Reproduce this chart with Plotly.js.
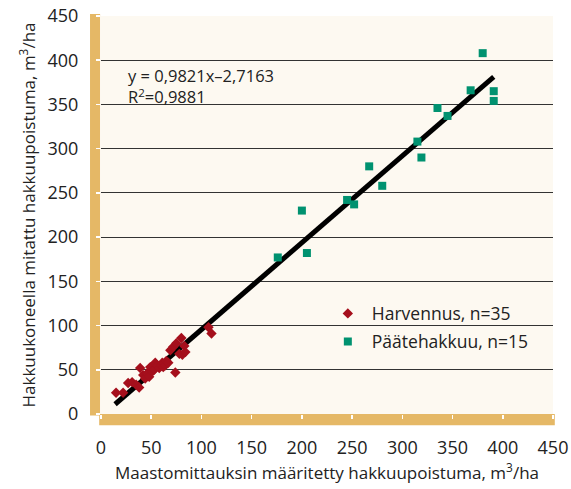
<!DOCTYPE html>
<html>
<head>
<meta charset="utf-8">
<script src="https://cdn.plot.ly/plotly-3.0.1.min.js"></script>
<style>html,body{margin:0;padding:0;background:#fff;}#chart{width:571px;height:489px;}</style>
</head>
<body>
<div id="chart"></div>
<script>
// Harvennus (thinning), n=35
const harvX = [15, 22, 27, 31, 35, 38, 39, 42, 44, 46, 48, 49, 51, 53, 54, 56, 58, 60, 61, 62, 63, 64, 65, 67, 69, 72, 74, 75, 78, 80, 81, 83, 84, 107, 110];
const harvY = [24, 24, 35, 36, 33, 30, 52, 44, 40, 46, 42, 53, 48, 50, 58, 55, 52, 55, 58, 53, 57, 55, 60, 58, 72, 76, 47, 80, 68, 86, 67, 77, 70, 98, 91];
// Päätehakkuu (final felling), n=15
const paatX = [380, 391, 391, 368, 345, 335, 315, 319, 267, 280, 245, 252, 200, 205, 176];
const paatY = [408, 365, 354, 366, 337, 346, 308, 290, 280, 258, 242, 237, 230, 182, 177];
// Regression line
const slope = 0.9821, intercept = -2.7163;
const lineX = [14, 391];
const lineY = lineX.map(x => slope * x + intercept);

const ticks = [0, 50, 100, 150, 200, 250, 300, 350, 400, 450];
const font = "'Open Sans', 'Noto Sans', sans-serif";

const traces = [
  {x: lineX, y: lineY, mode: 'lines', line: {color: '#000', width: 5}, showlegend: false, hoverinfo: 'skip'},
  {x: harvX, y: harvY, mode: 'markers', name: 'Harvennus, n=35', legend: 'legend',
   marker: {symbol: 'diamond', size: 8, color: '#A50F1C'}},
  {x: paatX, y: paatY, mode: 'markers', name: 'Päätehakkuu, n=15', legend: 'legend2',
   marker: {symbol: 'square', size: 8, color: '#009270'}}
];

const legendCommon = {xanchor: 'left', yanchor: 'middle', bgcolor: 'rgba(0,0,0,0)',
  font: {size: 17.5, color: '#222'}, itemwidth: 38};

const layout = {
  width: 571, height: 489,
  margin: {l: 101, r: 18, t: 16, b: 75},
  paper_bgcolor: '#fff',
  plot_bgcolor: '#FDF9F1',
  font: {family: font, color: '#222', size: 16},
  showlegend: true,
  legend: Object.assign({x: 0.493, y: 0.2525}, legendCommon),
  legend2: Object.assign({x: 0.493, y: 0.182}, legendCommon),
  xaxis: {range: [0, 450], tickvals: ticks, ticktext: ticks.map(String),
          showgrid: false, zeroline: false, showline: false,
          ticks: 'outside', ticklen: 4, tickcolor: '#fff', tickwidth: 1.5,
          ticklabelstandoff: 13, tickfont: {size: 18, color: '#222'},
          title: {text: 'Maastomittauksin määritetty hakkuupoistuma, m<sup>3</sup>/ha', font: {size: 17, color: '#222'}, standoff: 9}},
  yaxis: {range: [0, 450], tickvals: ticks, ticktext: ticks.map(String),
          showgrid: true, gridcolor: '#333', gridwidth: 1, zeroline: false, showline: false,
          ticks: 'outside', ticklen: 4, tickcolor: '#fff', tickwidth: 1.5,
          ticklabelstandoff: 14, tickfont: {size: 18, color: '#222'},
          title: {text: 'Hakkuukoneella mitattu hakkuupoistuma, m<sup>3</sup>/ha', font: {size: 17, color: '#222'}, standoff: 7}},
  shapes: [
    {type: 'rect', xref: 'paper', yref: 'paper', x0: -0.0243, x1: -0.002, y0: -0.004, y1: 1.005,
     fillcolor: '#E5B866', line: {width: 0}, layer: 'below'},
    {type: 'rect', xref: 'paper', yref: 'paper', x0: -0.004, x1: 1.004, y0: -0.028, y1: 0.0,
     fillcolor: '#E5B866', line: {width: 0}, layer: 'below'}
  ],
  annotations: [
    {xref: 'paper', yref: 'paper', x: 0.056, y: 0.825, xanchor: 'left', yanchor: 'middle', align: 'left', showarrow: false,
     text: 'y = 0,9821x–2,7163<br>R<sup>2</sup>=0,9881', font: {size: 16.5, color: '#222'}}
  ]
};

Plotly.newPlot('chart', traces, layout, {displayModeBar: false, staticPlot: true});
</script>
</body>
</html>
